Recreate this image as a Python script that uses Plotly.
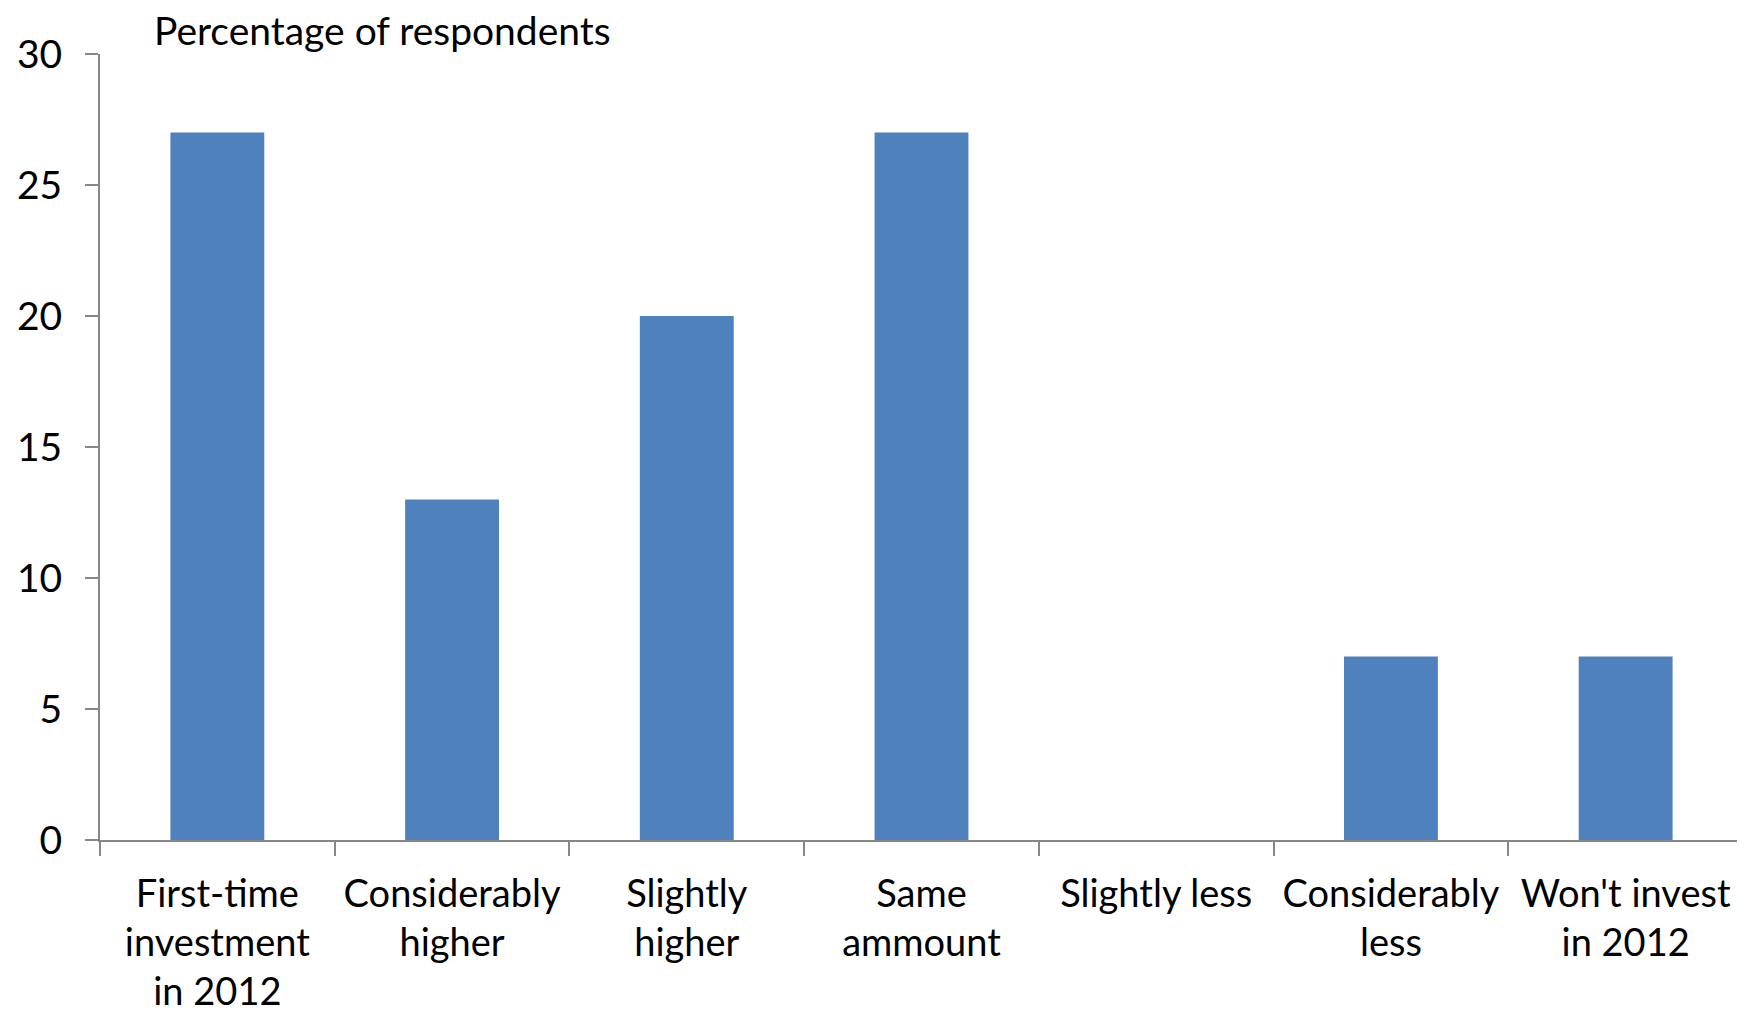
import plotly.graph_objects as go

categories = ["First-time<br>investment<br>in 2012", "Considerably<br>higher", "Slightly<br>higher",
              "Same<br>ammount", "Slightly less", "Considerably<br>less", "Won't invest<br>in 2012"]
values = [27, 13, 20, 27, 0, 7, 7]
y_ticks = [0, 5, 10, 15, 20, 25, 30]

FONT = "Lato"
FS = 39
XFS = 38

fig = go.Figure(go.Bar(
    x=categories, y=values,
    marker=dict(color="#4F81BD", line=dict(width=0)),
))

fig.update_layout(
    width=1737, height=1007,
    margin=dict(l=92, r=2, t=46, b=175),
    paper_bgcolor="white", plot_bgcolor="white",
    bargap=0.6,
    showlegend=False,
    font=dict(family=FONT, size=FS, color="black"),
    annotations=[dict(
        text="Percentage of respondents", xref="paper", yref="paper",
        x=(152 - 100) / 1643, y=1 + 24 / 786, xanchor="left", yanchor="middle",
        showarrow=False, font=dict(family=FONT, size=FS, color="black"),
    )],
)

fig.update_xaxes(
    showline=True, linecolor="#878787", linewidth=2, automargin=False,
    ticks="outside", tickson="boundaries", ticklen=14, tickcolor="#878787", tickwidth=2,
    showgrid=False, tickangle=0, ticklabelstandoff=19,
    tickfont=dict(family=FONT, size=XFS, color="black"),
)
fig.update_yaxes(
    range=[0, 30], tickvals=y_ticks, automargin=False,
    showline=True, linecolor="#878787", linewidth=2,
    ticks="outside", ticklen=13, tickcolor="#878787", tickwidth=2,
    showgrid=False, zeroline=False, ticklabelstandoff=15,
    tickfont=dict(family=FONT, size=FS, color="black"),
)

fig.write_html("out.html")
